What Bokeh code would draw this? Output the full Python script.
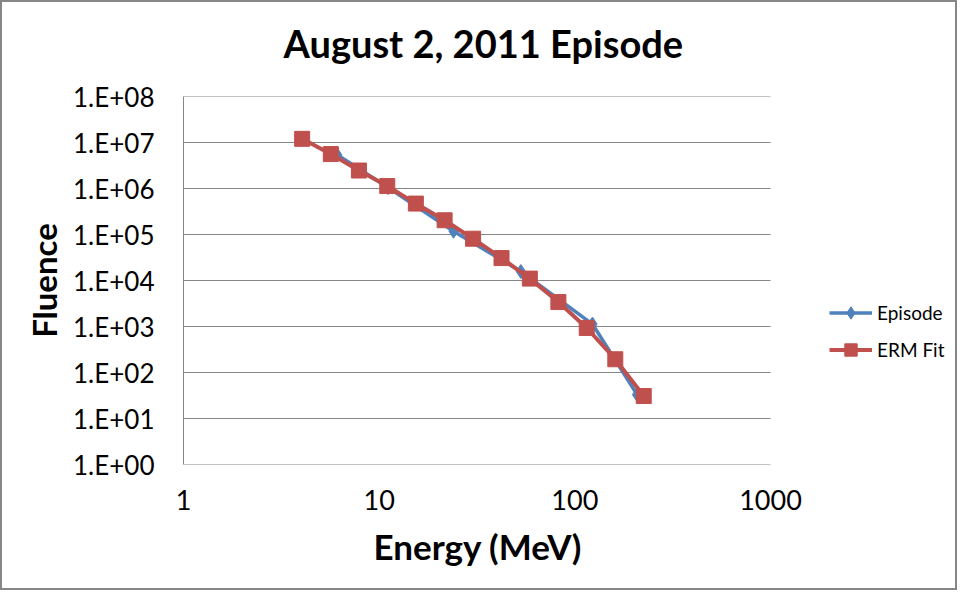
from bokeh.plotting import figure
from bokeh.models import (FixedTicker, CustomJSTickFormatter, Legend, LegendItem,
                          Title, LogAxis)
from bokeh.embed import file_html
from bokeh.resources import INLINE

# ---- data ----
title_text = "August 2, 2011 Episode"
x_title = "Energy (MeV)"
y_title = "Fluence"

episode_energy = [6.1, 11.1, 24.0, 53.0, 123.0, 208.0]
episode_fluence = [5.4e6, 1.05e6, 1.18e5, 1.57e4, 1.13e3, 33.0]

erm_energy = [4.04, 5.66, 7.88, 11.0, 15.4, 21.6, 30.2, 42.2, 58.9, 82.4, 115.0, 161.0, 225.0]
erm_fluence = [1.2e7, 5.6e6, 2.46e6, 1.13e6, 4.7e5, 2.04e5, 8.1e4, 3.07e4, 1.1e4, 3.4e3, 9.3e2, 1.94e2, 30.8]

x_ticks = [1, 10, 100, 1000]
x_tick_labels = ["1", "10", "100", "1000"]
y_ticks = [1, 1e1, 1e2, 1e3, 1e4, 1e5, 1e6, 1e7, 1e8]
y_tick_labels = ["1.E+00", "1.E+01", "1.E+02", "1.E+03", "1.E+04",
                 "1.E+05", "1.E+06", "1.E+07", "1.E+08"]

BLUE = "#4F81BD"
RED = "#C0504D"
GRID = "#868686"
FONT = "Lato"

# layout (pixels): plot area spans 1..1000 between PLOT_L and PLOT_R; the
# frame is widened to the right so that the legend can sit beside it.
W, H = 957, 590
PLOT_L, PLOT_R, FRAME_R = 181, 768, 949
x_max = 10 ** (3 * (FRAME_R - PLOT_L) / (PLOT_R - PLOT_L))

p = figure(width=W, height=H, x_axis_type="log", y_axis_type="log",
           x_range=(1, x_max), y_range=(1, 1e8),
           output_backend="svg", toolbar_location=None,
           min_border_left=PLOT_L, min_border_right=W - FRAME_R,
           min_border_top=94, min_border_bottom=128)
p.outline_line_color = None
p.background_fill_color = "white"
p.border_fill_color = "white"
p.styles = {"border": "2px solid #868686"}

xax = p.below[0]
yax = p.left[0]

# invisible spacer between the plot area and the title
spacer = LogAxis(ticker=FixedTicker(ticks=x_ticks[:1], minor_ticks=[]),
                 formatter=CustomJSTickFormatter(code="return '';"),
                 axis_line_color=None,
                 major_tick_line_color=None, minor_tick_line_color=None,
                 major_tick_out=29, major_tick_in=0, minor_tick_out=0,
                 minor_tick_in=0, major_label_standoff=0,
                 major_label_text_font_size="1px", major_label_text_alpha=0)
p.add_layout(spacer, "above")

t = Title(text=title_text, align="left", offset=100, text_font=FONT,
          text_font_style="bold", text_font_size="38px", text_color="black",
          standoff=4)
p.add_layout(t, "above")

# axes
xax.ticker = FixedTicker(ticks=x_ticks, minor_ticks=[])
yax.ticker = FixedTicker(ticks=y_ticks, minor_ticks=[])
xax.formatter = CustomJSTickFormatter(args=dict(labels=x_tick_labels),
    code="return labels[Math.round(Math.log10(tick))];")
yax.formatter = CustomJSTickFormatter(args=dict(labels=y_tick_labels),
    code="return labels[Math.round(Math.log10(tick))];")
for ax in (xax, yax):
    ax.major_tick_line_color = None
    ax.minor_tick_line_color = None
    ax.major_tick_out = 0
    ax.major_tick_in = 0
    ax.major_label_text_font = FONT
    ax.major_label_text_color = "black"
xax.axis_line_color = None
yax.axis_line_color = GRID
xax.major_label_text_font_size = "27px"
yax.major_label_text_font_size = "26px"
yax.axis_label = y_title
yax.axis_label_text_font = FONT
yax.axis_label_text_font_style = "bold"
yax.axis_label_text_font_size = "33px"
yax.axis_label_text_color = "black"
xax.major_label_standoff = 25
yax.major_label_standoff = 29
yax.axis_label_standoff = 6

xt = Title(text=x_title, align="left", offset=190, text_font=FONT,
           text_font_style="bold", text_font_size="35px", text_color="black",
           standoff=20)
p.add_layout(xt, "below")

p.xgrid.grid_line_color = None
p.ygrid.grid_line_color = None
# horizontal gridlines limited to the 1..1000 plot area
p.segment(x0=[x_ticks[0]] * len(y_ticks), y0=y_ticks,
          x1=[x_ticks[-1]] * len(y_ticks), y1=y_ticks,
          line_color=GRID, line_width=1)

# series
ep_line = p.line(episode_energy, episode_fluence, line_color=BLUE, line_width=3.5)
ep_pts = p.scatter(episode_energy, episode_fluence, marker="diamond", size=14,
                   fill_color=BLUE, line_color=BLUE)
erm_line = p.line(erm_energy, erm_fluence, line_color=RED, line_width=4)
erm_pts = p.scatter(erm_energy, erm_fluence, marker="square", size=15,
                    fill_color=RED, line_color=RED)

legend = Legend(items=[LegendItem(label="Episode", renderers=[ep_line, ep_pts]),
                       LegendItem(label="ERM Fit", renderers=[erm_line, erm_pts])],
                location=(646, 99), orientation="vertical",
                glyph_width=43, glyph_height=31, label_height=20,
                label_standoff=5, spacing=6, padding=0, margin=0,
                border_line_color=None, background_fill_alpha=0,
                label_text_font=FONT, label_text_font_size="19px",
                label_text_color="black")
p.add_layout(legend, "center")

open("out.html", "w").write(file_html(p, INLINE))
